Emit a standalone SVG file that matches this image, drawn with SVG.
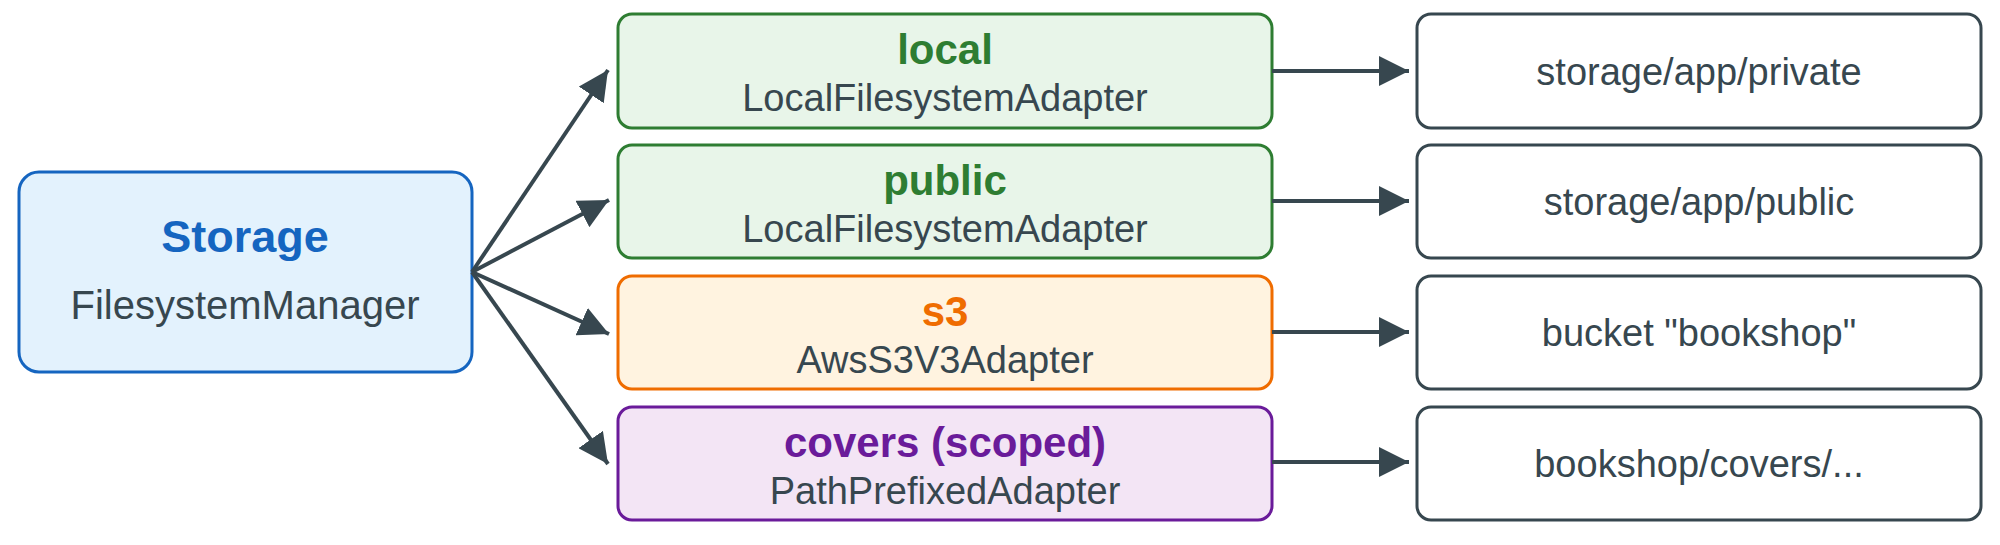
<svg xmlns="http://www.w3.org/2000/svg" width="2000" height="545" viewBox="0 0 2000 545">
<defs>
<marker id="ah" markerWidth="10" markerHeight="8" refX="9" refY="4" orient="auto" markerUnits="userSpaceOnUse" viewBox="0 0 10 8"><path d="M0,0 L10,4 L0,8 z" fill="#37474f"/></marker>
<marker id="a" viewBox="0 0 10 10" refX="10" refY="5" markerWidth="30" markerHeight="30" markerUnits="userSpaceOnUse" orient="auto"><path d="M0,0 L10,5 L0,10 z" fill="#37474f"/></marker>
<style>
text{font-family:"Liberation Sans",Arial,sans-serif;text-anchor:middle}
.t{font-weight:bold;font-size:42px}
.s{font-size:38px;fill:#37474f}
.p{font-size:38px;fill:#37474f}
.c line{stroke:#37474f;stroke-width:4;marker-end:url(#a)}
</style>
</defs>
<g id="storage"><rect x="19" y="172" width="453" height="200" rx="20" fill="#e3f2fd" stroke="#1565c0" stroke-width="3"/>
<text x="245" y="252" class="t" style="font-size:45px" fill="#1565c0">Storage</text>
<text x="245" y="319" class="s" style="font-size:40px">FilesystemManager</text></g>
<g id="local"><rect x="618" y="14" width="654" height="114" rx="14" fill="#e8f5e9" stroke="#2e7d32" stroke-width="3"/>
<text x="945" y="64" class="t" fill="#2e7d32">local</text><text x="945" y="111" class="s">LocalFilesystemAdapter</text></g>
<g id="public"><rect x="618" y="145" width="654" height="113" rx="14" fill="#e8f5e9" stroke="#2e7d32" stroke-width="3"/>
<text x="945" y="195" class="t" fill="#2e7d32">public</text><text x="945" y="242" class="s">LocalFilesystemAdapter</text></g>
<g id="s3"><rect x="618" y="276" width="654" height="113" rx="14" fill="#fff3e0" stroke="#ef6c00" stroke-width="3"/>
<text x="945" y="326" class="t" fill="#ef6c00">s3</text><text x="945" y="373" class="s">AwsS3V3Adapter</text></g>
<g id="covers"><rect x="618" y="407" width="654" height="113" rx="14" fill="#f3e5f5" stroke="#6a1b9a" stroke-width="3"/>
<text x="945" y="457" class="t" fill="#6a1b9a">covers (scoped)</text><text x="945" y="504" class="s">PathPrefixedAdapter</text></g>
<g id="p1"><rect x="1417" y="14" width="564" height="114" rx="14" fill="#fff" stroke="#37474f" stroke-width="3"/><text x="1699" y="85" class="p">storage/app/private</text></g>
<g id="p2"><rect x="1417" y="145" width="564" height="113" rx="14" fill="#fff" stroke="#37474f" stroke-width="3"/><text x="1699" y="215" class="p">storage/app/public</text></g>
<g id="p3"><rect x="1417" y="276" width="564" height="113" rx="14" fill="#fff" stroke="#37474f" stroke-width="3"/><text x="1699" y="346" class="p">bucket "bookshop"</text></g>
<g id="p4"><rect x="1417" y="407" width="564" height="113" rx="14" fill="#fff" stroke="#37474f" stroke-width="3"/><text x="1699" y="477" class="p">bookshop/covers/...</text></g>
<g id="connectors" class="c">
<line x1="472" y1="272" x2="608" y2="70"/>
<line x1="472" y1="272" x2="609" y2="200"/>
<line x1="472" y1="272" x2="609" y2="334"/>
<line x1="472" y1="272" x2="608" y2="464"/>
<line x1="1272" y1="71" x2="1409" y2="71"/>
<line x1="1272" y1="201" x2="1409" y2="201"/>
<line x1="1272" y1="332" x2="1409" y2="332"/>
<line x1="1272" y1="462" x2="1409" y2="462"/>
</g>
</svg>
